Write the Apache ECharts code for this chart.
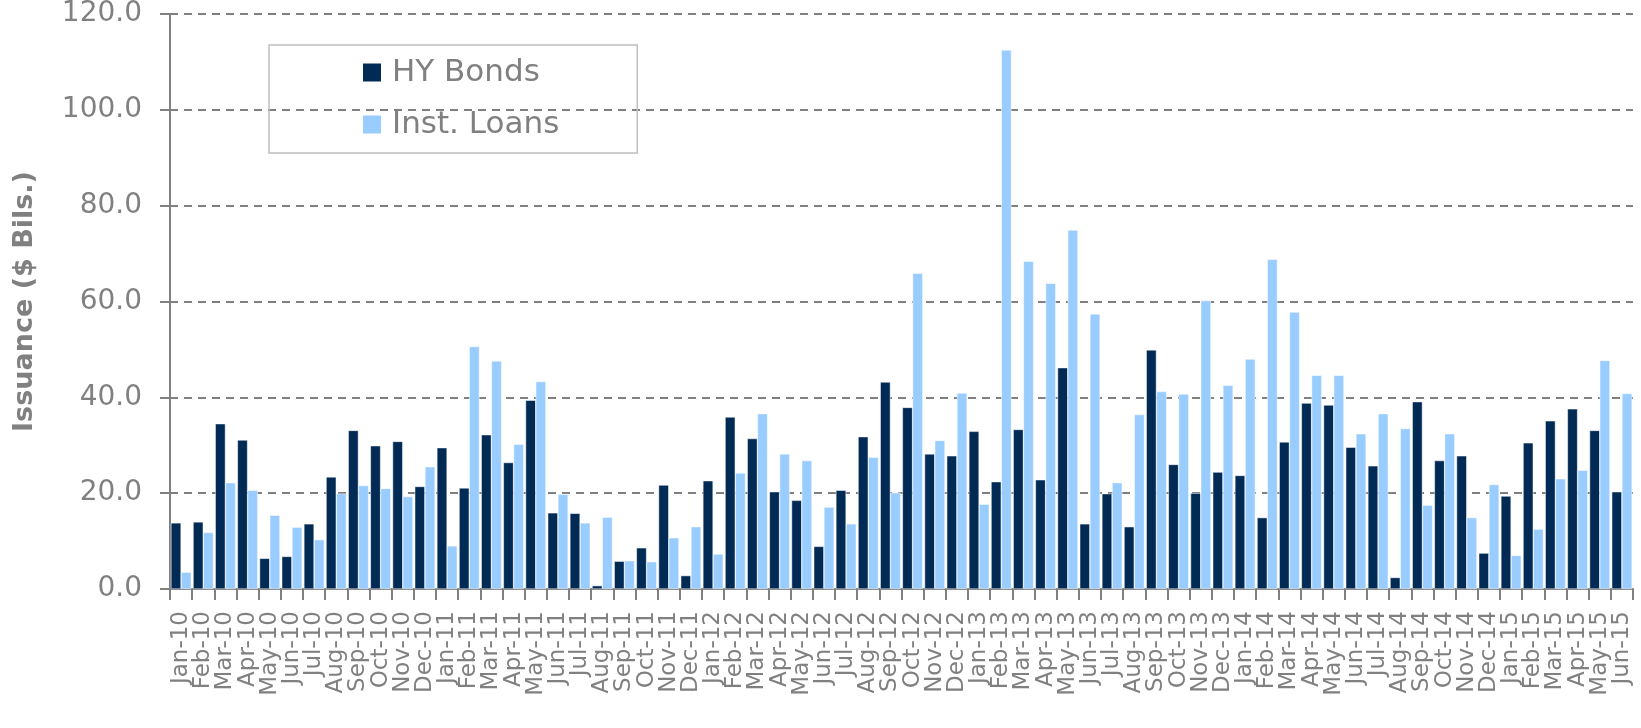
<!DOCTYPE html>
<html>
<head>
<meta charset="utf-8">
<script src="https://cdn.jsdelivr.net/npm/echarts@6/dist/echarts.min.js"></script>
<style>
  html, body { margin: 0; padding: 0; background: #ffffff; }
  #chart { width: 1641px; height: 728px; }
</style>
</head>
<body>
<div id="chart"></div>
<script>
// Monthly issuance, Jan-2010 through Jun-2015 ($ billions)
const months = [
  'Jan-10','Feb-10','Mar-10','Apr-10','May-10','Jun-10','Jul-10','Aug-10','Sep-10','Oct-10','Nov-10','Dec-10',
  'Jan-11','Feb-11','Mar-11','Apr-11','May-11','Jun-11','Jul-11','Aug-11','Sep-11','Oct-11','Nov-11','Dec-11',
  'Jan-12','Feb-12','Mar-12','Apr-12','May-12','Jun-12','Jul-12','Aug-12','Sep-12','Oct-12','Nov-12','Dec-12',
  'Jan-13','Feb-13','Mar-13','Apr-13','May-13','Jun-13','Jul-13','Aug-13','Sep-13','Oct-13','Nov-13','Dec-13',
  'Jan-14','Feb-14','Mar-14','Apr-14','May-14','Jun-14','Jul-14','Aug-14','Sep-14','Oct-14','Nov-14','Dec-14',
  'Jan-15','Feb-15','Mar-15','Apr-15','May-15','Jun-15'
];

const hyBonds = [
  13.8, 14.0, 34.5, 31.1, 6.4, 6.8, 13.6, 23.4, 33.1, 29.9, 30.8, 21.4,
  29.5, 21.1, 32.2, 26.4, 39.4, 15.9, 15.8, 0.7, 5.8, 8.6, 21.7, 2.8,
  22.6, 35.9, 31.4, 20.3, 18.5, 8.9, 20.6, 31.8, 43.2, 37.9, 28.2, 27.8,
  32.9, 22.4, 33.3, 22.8, 46.2, 13.6, 19.9, 13.0, 49.9, 26.0, 20.0, 24.4,
  23.7, 14.9, 30.7, 38.8, 38.4, 29.6, 25.7, 2.4, 39.1, 26.8, 27.8, 7.5,
  19.4, 30.5, 35.1, 37.6, 33.1, 20.3
];

const instLoans = [
  3.5, 11.8, 22.2, 20.6, 15.4, 12.9, 10.3, 19.9, 21.6, 21.0, 19.3, 25.5,
  9.0, 50.6, 47.6, 30.2, 43.3, 19.8, 13.8, 15.0, 5.9, 5.7, 10.7, 13.0,
  7.3, 24.2, 36.6, 28.2, 26.8, 17.1, 13.6, 27.5, 20.1, 65.9, 31.0, 40.9,
  17.7, 112.5, 68.4, 63.8, 74.9, 57.4, 22.2, 36.4, 41.2, 40.7, 60.2, 42.5,
  48.0, 68.8, 57.8, 44.6, 44.6, 32.4, 36.6, 33.5, 17.5, 32.4, 14.9, 21.8,
  7.0, 12.5, 23.0, 24.8, 47.7, 40.8
];

const seriesNames = ['HY Bonds', 'Inst. Loans'];
const yAxisTitle = 'Issuance ($ Bils.)';

const gray = '#808080';
const chart = echarts.init(document.getElementById('chart'), null, { renderer: 'canvas' });

chart.setOption({
  backgroundColor: '#ffffff',
  animation: false,
  grid: { left: 170, right: 8, top: 13, bottom: 139, containLabel: false },
  legend: {
    data: seriesNames,
    orient: 'vertical',
    left: 269,
    top: 45,
    padding: [12, 78, 13, 92],
    itemGap: 21,
    itemWidth: 20,
    itemHeight: 20,
    icon: 'rect',
    borderColor: '#bfbfbf',
    borderWidth: 1.5,
    textStyle: { color: gray, fontSize: 31, fontFamily: 'DejaVu Sans', padding: [0, 0, 0, 5] }
  },
  xAxis: {
    type: 'category',
    data: months,
    boundaryGap: true,
    axisLine: { lineStyle: { color: gray, width: 2 } },
    axisTick: { show: true, alignWithLabel: false, length: 11, interval: 0, lineStyle: { color: gray, width: 2 } },
    axisLabel: {
      interval: 0,
      rotate: 90,
      margin: 22,
      color: gray,
      fontSize: 23,
      fontFamily: 'DejaVu Sans'
    }
  },
  yAxis: {
    type: 'value',
    min: 0,
    max: 120,
    interval: 20,
    name: yAxisTitle,
    nameLocation: 'middle',
    nameGap: 132,
    nameTextStyle: { color: gray, fontSize: 27, fontWeight: 'bold', fontFamily: 'DejaVu Sans' },
    axisLine: { show: true, lineStyle: { color: gray, width: 2 } },
    axisTick: { show: true, length: 10, lineStyle: { color: gray, width: 2 } },
    axisLabel: {
      color: gray,
      fontSize: 28,
      margin: 28,
      fontFamily: 'DejaVu Sans',
      formatter: v => v.toFixed(1)
    },
    splitLine: { show: true, lineStyle: { color: gray, width: 2, type: [8, 6] } }
  },
  series: [
    {
      name: seriesNames[0],
      type: 'bar',
      data: hyBonds,
      barGap: '0%',
      barCategoryGap: '8%',
      itemStyle: { color: '#012a55', borderColor: '#ffffff', borderWidth: 0.5 }
    },
    {
      name: seriesNames[1],
      type: 'bar',
      data: instLoans,
      itemStyle: { color: '#99ccff', borderColor: '#ffffff', borderWidth: 0.5 }
    }
  ]
});
</script>
</body>
</html>
